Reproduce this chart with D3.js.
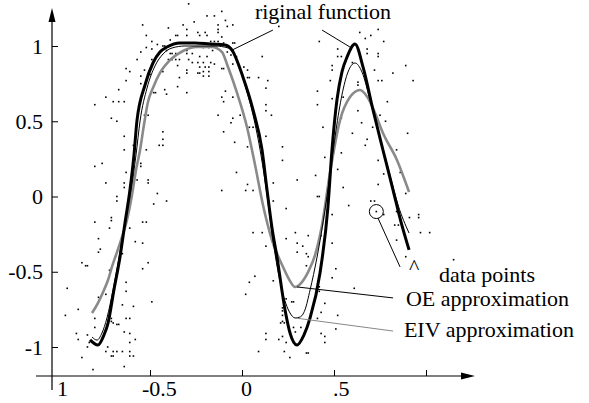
<!DOCTYPE html>
<html>
<head>
<meta charset="utf-8">
<script src="https://cdn.jsdelivr.net/npm/d3@7"></script>
<style>
  body { margin: 0; background: #fff; }
  svg { display: block; }
  text { font-family: "Liberation Serif", "Times New Roman", serif; font-size: 22px; fill: #000; }
</style>
</head>
<body>
<svg id="chart"></svg>
<script>
// ---- data ----
const yTicks = [-1, -0.5, 0, 0.5, 1]
const yTickLabels = ["-1", "-0.5", "0", "0.5", "1"]
const xTicks = [-0.5, 0, 0.5, 1]
const xLabelVals = [-1, -0.5, 0, 0.5]
const xTickLabels = ["1", "-0.5", "0", ".5"]

// original function (thick black)
const original = [[-0.826,-0.953],[-0.783,-0.987],[-0.750,-0.920],[-0.728,-0.841],[-0.696,-0.621],[-0.663,-0.402],[-0.636,-0.176],[-0.609,0.043],[-0.587,0.276],[-0.571,0.502],[-0.527,0.741],[-0.484,0.887],[-0.446,0.960],[-0.408,0.993],[-0.337,1.020],[-0.255,1.020],[-0.174,1.013],[-0.092,1.007],[-0.054,0.973],[0.005,0.794],[0.060,0.575],[0.109,0.309],[0.136,0.043],[0.163,-0.209],[0.190,-0.402],[0.234,-0.754],[0.261,-0.907],[0.299,-0.987],[0.337,-0.920],[0.370,-0.807],[0.424,-0.508],[0.467,-0.070],[0.489,0.309],[0.516,0.641],[0.543,0.827],[0.571,0.927],[0.614,1.013],[0.658,0.860],[0.712,0.575],[0.766,0.309],[0.821,0.043],[0.864,-0.169],[0.908,-0.355]]

// EIV approximation (thin black)
const eiv = [[-0.815,-0.934],[-0.788,-0.954],[-0.761,-0.907],[-0.734,-0.807],[-0.701,-0.621],[-0.668,-0.402],[-0.636,-0.169],[-0.603,0.043],[-0.576,0.276],[-0.554,0.502],[-0.516,0.721],[-0.473,0.867],[-0.429,0.947],[-0.380,0.987],[-0.310,1.000],[-0.228,1.000],[-0.147,1.000],[-0.076,0.987],[-0.033,0.920],[0.016,0.741],[0.060,0.542],[0.103,0.276],[0.136,0.010],[0.168,-0.289],[0.217,-0.621],[0.261,-0.774],[0.288,-0.807],[0.315,-0.801],[0.342,-0.754],[0.370,-0.621],[0.408,-0.402],[0.440,-0.176],[0.478,0.143],[0.511,0.442],[0.543,0.674],[0.576,0.827],[0.614,0.887],[0.652,0.827],[0.696,0.641],[0.750,0.389],[0.804,0.143],[0.848,-0.056],[0.908,-0.243]]

// OE approximation (grey)
const oe = [[-0.815,-0.774],[-0.783,-0.708],[-0.750,-0.621],[-0.728,-0.555],[-0.707,-0.468],[-0.679,-0.369],[-0.652,-0.269],[-0.625,-0.156],[-0.598,0.010],[-0.576,0.176],[-0.554,0.309],[-0.533,0.475],[-0.511,0.628],[-0.484,0.721],[-0.446,0.821],[-0.391,0.907],[-0.321,0.967],[-0.245,0.993],[-0.163,0.993],[-0.109,0.960],[-0.076,0.860],[-0.027,0.688],[0.027,0.462],[0.071,0.209],[0.114,-0.056],[0.163,-0.289],[0.223,-0.468],[0.261,-0.562],[0.288,-0.601],[0.321,-0.575],[0.359,-0.502],[0.397,-0.389],[0.435,-0.189],[0.478,0.156],[0.533,0.508],[0.587,0.661],[0.641,0.708],[0.685,0.654],[0.723,0.555],[0.766,0.422],[0.842,0.243],[0.908,0.030]]

// noisy data points
const dataPoints = [
  [-0.29,1.28],[-0.54,1.14],[-0.32,1.14],[-0.26,1.16],[-0.40,1.12],[-0.52,1.07],[-0.36,1.07],[-0.35,1.07],[-0.30,1.11],[-0.30,1.07],[-0.24,1.09],[-0.23,1.07],[-0.39,1.04],[-0.49,1.03],[-0.46,1.01],[-0.43,1.00],[-0.42,1.00],[-0.52,0.99],[-0.49,0.98],[-0.41,0.97],[-0.55,0.96],[-0.39,0.95],[-0.38,0.95],[-0.36,0.95],[-0.30,0.97],[-0.30,0.95],[-0.27,0.95],[-0.57,0.91],[-0.49,0.91],[-0.40,0.91],[-0.38,0.91],[-0.36,0.91],[-0.34,0.91],[-0.29,0.91],[-0.27,0.89],[-0.24,0.89],[-0.35,0.87],[-0.63,0.85],[-0.61,0.83],[-0.53,0.84],[-0.30,0.84],[-0.30,0.82],[-0.24,0.82],[-0.23,0.82],[-0.55,0.80],[-0.50,0.81],[-0.43,0.83],[-0.34,0.79],[-0.63,0.77],[-0.55,0.75],[-0.42,0.71],[-0.35,0.73],[-0.67,0.71],[-0.48,0.69],[-0.47,0.69],[-0.30,0.69],[-0.41,0.68],[-0.74,0.66],[-0.80,0.61],[-0.70,0.63],[-0.67,0.63],[-0.64,0.63],[-0.53,0.54],[-0.51,0.54],[-0.71,0.52],[-0.68,0.50],[-0.43,0.43],[-0.43,0.38],[-0.45,0.34],[-0.43,0.34],[-0.64,0.40],[-0.59,0.34],[-0.64,0.31],[-0.52,0.31],[-0.76,0.22],[-0.80,0.20],[-0.55,0.22],[-0.55,0.20],[-0.63,0.16],[-0.57,0.11],[-0.51,0.11],[-0.51,0.09],[-0.74,0.09],[-0.64,0.09],[-0.64,0.06],
  [-0.11,1.23],[-0.15,1.20],[-0.19,1.20],[-0.09,1.17],[-0.13,1.14],[-0.05,1.14],[-0.08,1.13],[-0.13,1.11],[-0.13,1.09],[-0.20,1.09],[-0.19,1.07],[-0.11,1.06],[0.20,1.13],[0.42,1.03],[-0.17,1.03],[-0.15,1.03],[-0.13,1.03],[-0.10,1.02],[-0.05,1.02],[-0.04,1.02],[-0.21,0.99],[-0.18,0.99],[-0.14,0.99],[-0.16,0.97],[-0.08,0.96],[-0.06,0.94],[-0.03,0.93],[-0.23,0.93],[-0.19,0.93],[-0.21,0.89],[-0.17,0.89],[-0.15,0.88],[0.11,0.93],[-0.05,0.88],[0.01,0.86],[-0.23,0.86],[-0.20,0.86],[-0.18,0.86],[-0.11,0.85],[-0.10,0.85],[-0.21,0.83],[-0.18,0.83],[-0.21,0.80],[-0.18,0.80],[0.03,0.84],[0.03,0.79],[0.04,0.79],[0.09,0.79],[0.14,0.77],[0.13,0.72],[-0.09,0.70],[-0.11,0.66],[-0.05,0.66],[-0.10,0.63],[0.13,0.61],[0.13,0.57],[-0.01,0.54],[-0.13,0.54],[-0.05,0.52],[-0.06,0.49],[0.16,0.54],[0.04,0.46],[0.06,0.46],[-0.10,0.43],[0.13,0.40],[-0.04,0.36],[0.03,0.33],[0.22,0.33],[0.22,0.24],[-0.03,0.16],[0.03,0.08],[0.17,0.09],[0.30,0.11],[0.40,0.14],[0.45,0.26],[0.44,0.46],[0.41,0.61],[0.41,0.70],
  [0.64,1.09],[0.67,1.05],[0.70,1.07],[0.74,1.11],[0.77,1.03],[0.52,0.98],[0.68,0.98],[0.52,0.93],[0.54,0.93],[0.68,0.95],[0.74,0.95],[0.74,0.93],[0.60,0.89],[0.49,0.87],[0.49,0.84],[0.89,0.87],[0.72,0.84],[0.82,0.82],[0.63,0.76],[0.63,0.74],[0.74,0.77],[0.76,0.77],[0.93,0.77],[0.48,0.77],[0.55,0.66],[0.49,0.65],[0.79,0.63],[0.63,0.57],[0.75,0.54],[0.78,0.50],[0.54,0.52],[0.65,0.49],[0.71,0.46],[0.60,0.42],[0.90,0.42],[0.68,0.38],[0.67,0.34],[0.84,0.31],[0.54,0.29],[0.74,0.24],[0.52,0.18],[0.77,0.15],[0.86,0.16],[0.74,0.08],[0.55,0.06],[0.89,0.02],[0.88,0.12],
  [-0.68,0.00],[-0.68,-0.03],[-0.46,0.02],[-0.41,-0.03],[-0.48,-0.05],[-0.71,-0.14],[-0.71,-0.16],[-0.80,-0.17],[-0.54,-0.17],[-0.52,-0.17],[-0.72,-0.21],[-0.61,-0.21],[-0.78,-0.28],[-0.58,-0.30],[-0.54,-0.31],[-0.77,-0.35],[-0.78,-0.37],[-0.87,-0.44],[-0.85,-0.46],[-0.84,-0.46],[-0.51,-0.44],[-0.54,-0.48],[-0.65,-0.38],[-0.72,-0.49],[-0.63,-0.57],[-0.63,-0.63],[-0.78,-0.67],[-0.74,-0.65],[-0.49,-0.70],[-0.65,-0.72],[-0.59,-0.73],[-0.89,-0.75],[-0.80,-0.81],[-0.71,-0.81],[-0.71,-0.83],[-0.63,-0.81],[-0.61,-0.81],[-0.70,-0.84],[-0.68,-0.85],[-0.67,-0.85],[-0.80,-0.87],[-0.90,-0.91],[-0.84,-0.92],[-0.64,-0.90],[-0.61,-0.91],[-0.89,-0.95],[-0.58,-0.95],[-0.61,-0.97],[-0.83,-0.97],[-0.84,-1.00],[-0.73,-1.00],[-0.74,-1.03],[-0.70,-1.03],[-0.68,-1.03],[-0.65,-1.03],[-0.61,-1.03],[-0.59,-1.06],[-0.61,-1.06],[-0.71,-1.06],[-0.70,-1.06],[-0.87,-1.07],[-0.64,-1.13],[-0.81,-1.15],[-0.95,-0.61],[-0.96,-0.79],
  [-0.11,0.04],[0.02,0.04],[0.06,0.04],[0.41,0.00],[0.42,0.00],[0.17,-0.03],[0.24,-0.08],[0.06,-0.24],[0.11,-0.24],[0.29,-0.24],[0.24,-0.28],[0.36,-0.26],[0.43,-0.26],[0.13,-0.33],[0.30,-0.31],[0.33,-0.33],[0.30,-0.37],[0.35,-0.38],[0.36,-0.40],[0.35,-0.46],[0.07,-0.53],[0.04,-0.57],[0.17,-0.56],[0.02,-0.65],[0.42,-0.60],[0.42,-0.63],[0.24,-0.68],[0.27,-0.70],[0.28,-0.70],[0.22,-0.74],[0.22,-0.76],[0.45,-0.71],[0.43,-0.77],[0.22,-0.79],[0.22,-0.83],[0.21,-0.84],[0.23,-0.84],[0.41,-0.81],[0.28,-0.87],[0.32,-0.87],[0.29,-0.90],[0.13,-0.91],[0.13,-0.95],[0.22,-0.93],[0.20,-0.95],[0.43,-0.91],[0.45,-0.93],[0.24,-0.97],[0.45,-0.97],[0.09,-1.03],[0.23,-1.03],[0.35,-1.04],[0.36,-1.04],[0.26,-1.07],
  [0.70,-0.03],[0.72,-0.03],[0.58,-0.06],[0.49,-0.12],[0.73,-0.10],[0.77,-0.12],[0.84,-0.10],[0.91,-0.14],[0.96,-0.12],[0.96,-0.14],[0.83,-0.19],[0.85,-0.19],[0.97,-0.24],[1.02,-0.24],[0.84,-0.29],[0.49,-0.31],[0.89,-0.40],[0.51,-0.48],[0.49,-0.54],[0.61,-0.61],[0.52,-0.79],[0.51,-0.88],[1.15,-0.42]
]

// the circled sample point
const circled = [0.73, -0.10]

// annotation texts and their anchors (data units)
const noteTexts = ["riginal function", "data points", "OE approximation", "EIV approximation", "^"]
const notePos = [[0.07, 1.18], [1.071, -0.568], [0.891, -0.728], [0.880, -0.934], [0.935, -0.518]]
const leaders = [
    { from: [0.168, 1.106], to: [-0.054, 0.973], color: "#000" },
    { from: [0.435, 1.106], to: [0.587, 0.993], color: "#000" },
    { from: [0.739, -0.143], to: [0.859, -0.468], color: "#000" },
    { from: [0.299, -0.601], to: [0.821, -0.674], color: "#000" },
    { from: [0.288, -0.807], to: [0.821, -0.894], color: "#888" }
]

// ---- drawing ----
const width = 589, height = 403
const axisX = 52, axisY = 376

const x = d3.scaleLinear().domain([-1, 1]).range([58, 426])
const y = d3.scaleLinear().domain([-1, 1]).range([347, 46])

const svg = d3.select("#chart").attr("width", width).attr("height", height)
svg.append("rect").attr("width", width).attr("height", height).attr("fill", "#fff")

// data points
svg.append("g").selectAll("rect")
    .data(dataPoints)
    .enter().append("rect")
    .attr("x", d => x(d[0]) - 0.8)
    .attr("y", d => y(d[1]) - 0.8)
    .attr("width", 1.6)
    .attr("height", 1.6)
    .attr("fill", "#000")

const line = d3.line()
    .x(d => x(d[0]))
    .y(d => y(d[1]))
    .curve(d3.curveMonotoneX)

svg.append("path").datum(oe)
    .attr("d", line).attr("fill", "none")
    .attr("stroke", "#8a8a8a").attr("stroke-width", 2.6)

svg.append("path").datum(eiv)
    .attr("d", line).attr("fill", "none")
    .attr("stroke", "#000").attr("stroke-width", 1)

svg.append("path").datum(original)
    .attr("d", line).attr("fill", "none")
    .attr("stroke", "#000").attr("stroke-width", 3)

// axes lines + arrows
svg.append("line")
    .attr("x1", axisX).attr("x2", axisX)
    .attr("y1", 20).attr("y2", 390)
    .attr("stroke", "#000").attr("stroke-width", 1.2)
svg.append("path")
    .attr("d", `M${axisX},8 L${axisX - 3.5},22 L${axisX + 3.5},22 Z`)
    .attr("fill", "#000")

svg.append("line")
    .attr("x1", 36).attr("x2", 463)
    .attr("y1", axisY).attr("y2", axisY)
    .attr("stroke", "#000").attr("stroke-width", 1.2)
svg.append("path")
    .attr("d", `M475,${axisY} L461,${axisY - 3.5} L461,${axisY + 3.5} Z`)
    .attr("fill", "#000")

// y ticks + labels
const yAxis = d3.axisLeft(y)
    .tickValues(yTicks)
    .tickFormat((d, i) => yTickLabels[i])
    .tickSizeInner(-6)
    .tickSizeOuter(0)
    .tickPadding(9)
const gy = svg.append("g").attr("transform", `translate(${axisX},0)`).call(yAxis)
gy.select(".domain").remove()
gy.selectAll("text").attr("font-family", null).attr("font-size", null)
gy.selectAll("line").attr("stroke-width", 1)

// x ticks
const xAxis = d3.axisBottom(x)
    .tickValues(xTicks)
    .tickFormat("")
    .tickSizeInner(-6)
    .tickSizeOuter(0)
const gx = svg.append("g").attr("transform", `translate(0,${axisY})`).call(xAxis)
gx.select(".domain").remove()

// x labels: digits start at the tick, a minus sign hangs to the left
svg.append("g").selectAll("text")
    .data(xLabelVals)
    .enter().append("text")
    .attr("x", (d, i) => x(d) - 1 - (xTickLabels[i][0] === "-" ? 7 : 0))
    .attr("y", 396)
    .text((d, i) => xTickLabels[i])

// leader lines
svg.append("g").selectAll("line")
    .data(leaders)
    .enter().append("line")
    .attr("x1", d => x(d.from[0])).attr("y1", d => y(d.from[1]))
    .attr("x2", d => x(d.to[0])).attr("y2", d => y(d.to[1]))
    .attr("stroke", d => d.color).attr("stroke-width", 1)

svg.append("circle")
    .attr("cx", x(circled[0])).attr("cy", y(circled[1]))
    .attr("r", 7)
    .attr("fill", "none").attr("stroke", "#000").attr("stroke-width", 1)

svg.append("g").selectAll("text")
    .data(noteTexts)
    .enter().append("text")
    .attr("x", (d, i) => x(notePos[i][0]))
    .attr("y", (d, i) => y(notePos[i][1]))
    .attr("text-anchor", d => d === "^" ? "middle" : "start")
    .text(d => d)
</script>
</body>
</html>
